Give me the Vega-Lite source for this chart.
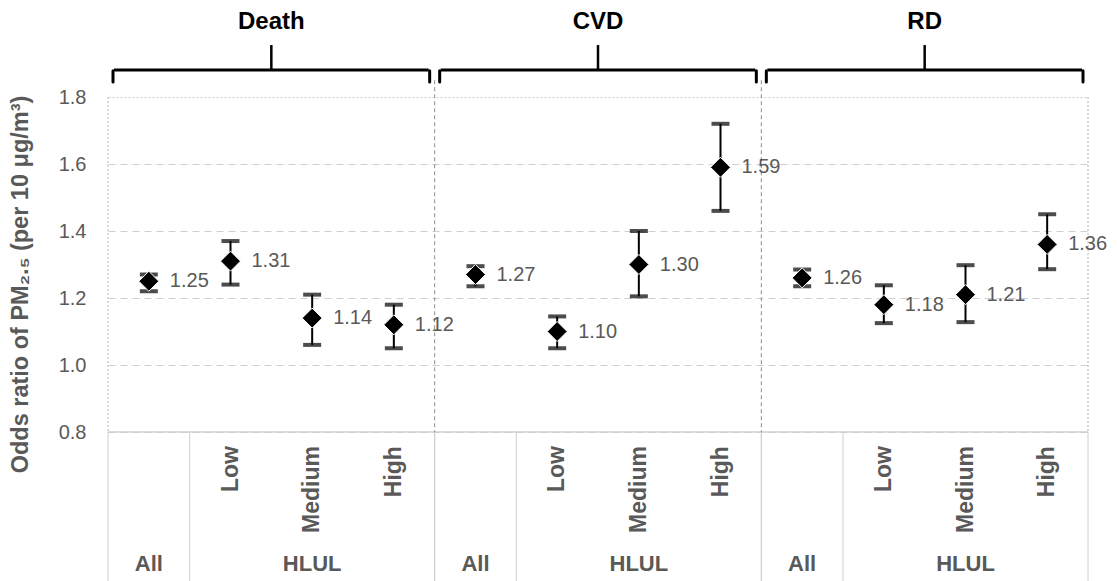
{
  "$schema": "https://vega.github.io/schema/vega-lite/v6.json",
  "width": 980,
  "height": 335,
  "autosize": {"type": "none"},
  "padding": {"left": 108, "top": 97, "right": 29, "bottom": 149},
  "background": "white",
  "config": {"view": {"stroke": null}, "font": "Liberation Sans"},
  "datasets": {
    "pts": [
      {"outcome": "Death", "level": "All", "key": "Death-All", "or": 1.25, "lo": 1.22, "hi": 1.27},
      {"outcome": "Death", "level": "Low", "key": "Death-Low", "or": 1.31, "lo": 1.24, "hi": 1.37},
      {"outcome": "Death", "level": "Medium", "key": "Death-Medium", "or": 1.14, "lo": 1.06, "hi": 1.21},
      {"outcome": "Death", "level": "High", "key": "Death-High", "or": 1.12, "lo": 1.05, "hi": 1.18},
      {"outcome": "CVD", "level": "All", "key": "CVD-All", "or": 1.27, "lo": 1.235, "hi": 1.295},
      {"outcome": "CVD", "level": "Low", "key": "CVD-Low", "or": 1.10, "lo": 1.05, "hi": 1.145},
      {"outcome": "CVD", "level": "Medium", "key": "CVD-Medium", "or": 1.30, "lo": 1.205, "hi": 1.40},
      {"outcome": "CVD", "level": "High", "key": "CVD-High", "or": 1.59, "lo": 1.46, "hi": 1.72},
      {"outcome": "RD", "level": "All", "key": "RD-All", "or": 1.26, "lo": 1.235, "hi": 1.285},
      {"outcome": "RD", "level": "Low", "key": "RD-Low", "or": 1.18, "lo": 1.125, "hi": 1.238},
      {"outcome": "RD", "level": "Medium", "key": "RD-Medium", "or": 1.21, "lo": 1.128, "hi": 1.298},
      {"outcome": "RD", "level": "High", "key": "RD-High", "or": 1.36, "lo": 1.286, "hi": 1.45}
    ],
    "groups": [
      {"outcome": "Death", "first": "Death-All", "mid": "Death-Medium", "last": "Death-High"},
      {"outcome": "CVD", "first": "CVD-All", "mid": "CVD-Medium", "last": "CVD-High"},
      {"outcome": "RD", "first": "RD-All", "mid": "RD-Medium", "last": "RD-High"}
    ]
  },
  "layer": [
    {
      "data": {"name": "pts"},
      "mark": {"type": "rule", "color": "black", "strokeWidth": 2},
      "encoding": {
        "x": {"field": "key", "type": "nominal", "scale": {"type": "band", "domain": ["Death-All","Death-Low","Death-Medium","Death-High","CVD-All","CVD-Low","CVD-Medium","CVD-High","RD-All","RD-Low","RD-Medium","RD-High"], "paddingInner": 0, "paddingOuter": 0}, "axis": null},
        "y": {
          "field": "lo", "type": "quantitative",
          "scale": {"domain": [0.8, 1.8], "nice": false, "zero": false},
          "axis": {
            "title": "Odds ratio of PM₂.₅ (per 10 μg/m³)",
            "values": [0.8, 1.0, 1.2, 1.4, 1.6, 1.8],
            "format": ".1f",
            "domain": false,
            "ticks": false,
            "labelPadding": 22,
            "labelFontSize": 20,
            "labelColor": "#595959",
            "titleFontSize": 23.5,
            "titleFontWeight": "bold",
            "titleColor": "#595959",
            "titlePadding": 26,
            "titleY": 187,
            "grid": true,
            "gridColor": "#cfcfcf",
            "gridDash": {"condition": {"test": "datum.value > 1.75", "value": [2, 2]}, "value": [7, 5]}
          }
        },
        "y2": {"field": "hi"}
      }
    },
    {
      "data": {"name": "groups"},
      "mark": {"type": "rule", "color": "#cfcfcf", "strokeWidth": 1.5},
      "encoding": {
        "x": {"field": "first", "type": "nominal", "bandPosition": 0},
        "x2": {"field": "last", "bandPosition": 1},
        "y": {"datum": 0.8, "type": "quantitative"}
      }
    },
    {
      "data": {"name": "groups"},
      "mark": {"type": "rule", "color": "#d0d0d0", "strokeWidth": 1},
      "encoding": {
        "x": {"field": "first", "type": "nominal", "bandPosition": 0},
        "y": {"datum": 0.8, "type": "quantitative"},
        "y2": {"datum": 0.35}
      }
    },
    {
      "data": {"name": "groups"},
      "mark": {"type": "rule", "color": "#d0d0d0", "strokeWidth": 1},
      "encoding": {
        "x": {"field": "first", "type": "nominal", "bandPosition": 1},
        "y": {"datum": 0.8, "type": "quantitative"},
        "y2": {"datum": 0.35}
      }
    },
    {
      "data": {"name": "groups"},
      "mark": {"type": "rule", "color": "#d0d0d0", "strokeWidth": 1},
      "encoding": {
        "x": {"field": "last", "type": "nominal", "bandPosition": 1},
        "y": {"datum": 0.8, "type": "quantitative"},
        "y2": {"datum": 0.35}
      }
    },
    {
      "data": {"name": "groups"},
      "transform": [{"filter": "datum.outcome !== 'Death'"}],
      "mark": {"type": "rule", "color": "#8c8c8c", "strokeWidth": 1, "strokeDash": [4, 3]},
      "encoding": {
        "x": {"field": "first", "type": "nominal", "bandPosition": 0},
        "y": {"datum": 1.85, "type": "quantitative"},
        "y2": {"datum": 0.8}
      }
    },
    {
      "data": {"name": "groups"},
      "transform": [{"filter": "datum.outcome === 'Death'"}],
      "mark": {"type": "rule", "color": "#b3b3b3", "strokeWidth": 1, "strokeDash": [2, 2]},
      "encoding": {
        "x": {"field": "first", "type": "nominal", "bandPosition": 0},
        "y": {"datum": 1.8, "type": "quantitative"},
        "y2": {"datum": 0.8}
      }
    },
    {
      "data": {"name": "groups"},
      "transform": [{"filter": "datum.outcome === 'RD'"}],
      "mark": {"type": "rule", "color": "#b3b3b3", "strokeWidth": 1, "strokeDash": [2, 2]},
      "encoding": {
        "x": {"field": "last", "type": "nominal", "bandPosition": 1},
        "y": {"datum": 1.8, "type": "quantitative"},
        "y2": {"datum": 0.8}
      }
    },
    {
      "data": {"name": "pts"},
      "mark": {"type": "tick", "color": "black", "thickness": 4, "size": 18, "orient": "horizontal"},
      "encoding": {
        "x": {"field": "key", "type": "nominal"},
        "y": {"field": "lo", "type": "quantitative"}
      }
    },
    {
      "data": {"name": "pts"},
      "mark": {"type": "tick", "color": "black", "thickness": 4, "size": 18, "orient": "horizontal"},
      "encoding": {
        "x": {"field": "key", "type": "nominal"},
        "y": {"field": "hi", "type": "quantitative"}
      }
    },
    {
      "data": {"name": "pts"},
      "mark": {"type": "point", "shape": "diamond", "filled": true, "fill": "black", "stroke": "white", "strokeWidth": 1, "size": 400, "opacity": 1},
      "encoding": {
        "x": {"field": "key", "type": "nominal"},
        "y": {"field": "or", "type": "quantitative"}
      }
    },
    {
      "data": {"name": "pts"},
      "mark": {"type": "text", "align": "left", "baseline": "middle", "dx": 21, "fontSize": 20, "color": "#595959"},
      "encoding": {
        "x": {"field": "key", "type": "nominal"},
        "y": {"field": "or", "type": "quantitative"},
        "text": {"field": "or", "type": "quantitative", "format": ".2f"}
      }
    },
    {
      "data": {"name": "pts"},
      "transform": [{"filter": "datum.level !== 'All'"}],
      "mark": {"type": "text", "angle": 270, "align": "right", "baseline": "middle", "fontSize": 23, "fontWeight": "bold", "color": "#595959"},
      "encoding": {
        "x": {"field": "key", "type": "nominal"},
        "y": {"datum": 0.758, "type": "quantitative"},
        "text": {"field": "level", "type": "nominal"}
      }
    },
    {
      "data": {"name": "pts"},
      "transform": [{"filter": "datum.level === 'All'"}],
      "mark": {"type": "text", "align": "center", "baseline": "middle", "fontSize": 22, "fontWeight": "bold", "color": "#595959"},
      "encoding": {
        "x": {"field": "key", "type": "nominal"},
        "y": {"datum": 0.405, "type": "quantitative"},
        "text": {"field": "level", "type": "nominal"}
      }
    },
    {
      "data": {"name": "groups"},
      "mark": {"type": "text", "text": "HLUL", "align": "center", "baseline": "middle", "fontSize": 22, "fontWeight": "bold", "color": "#595959"},
      "encoding": {
        "x": {"field": "mid", "type": "nominal"},
        "y": {"datum": 0.405, "type": "quantitative"}
      }
    },
    {
      "data": {"name": "groups"},
      "mark": {"type": "rule", "color": "black", "strokeWidth": 3, "xOffset": 6, "x2Offset": -6},
      "encoding": {
        "x": {"field": "first", "type": "nominal", "bandPosition": 0},
        "x2": {"field": "last", "bandPosition": 1},
        "y": {"datum": 1.8806, "type": "quantitative"}
      }
    },
    {
      "data": {"name": "groups"},
      "mark": {"type": "rule", "color": "black", "strokeWidth": 3, "xOffset": 5, "strokeCap": "round"},
      "encoding": {
        "x": {"field": "first", "type": "nominal", "bandPosition": 0},
        "y": {"datum": 1.878, "type": "quantitative"},
        "y2": {"datum": 1.845}
      }
    },
    {
      "data": {"name": "groups"},
      "mark": {"type": "rule", "color": "black", "strokeWidth": 3, "xOffset": -5, "strokeCap": "round"},
      "encoding": {
        "x": {"field": "last", "type": "nominal", "bandPosition": 1},
        "y": {"datum": 1.878, "type": "quantitative"},
        "y2": {"datum": 1.845}
      }
    },
    {
      "data": {"name": "groups"},
      "mark": {"type": "rule", "color": "black", "strokeWidth": 2.5},
      "encoding": {
        "x": {"field": "mid", "type": "nominal", "bandPosition": 0},
        "y": {"datum": 1.879, "type": "quantitative"},
        "y2": {"datum": 1.955}
      }
    },
    {
      "data": {"name": "groups"},
      "mark": {"type": "text", "align": "center", "baseline": "middle", "fontSize": 24, "fontWeight": "bold", "color": "black"},
      "encoding": {
        "x": {"field": "mid", "type": "nominal", "bandPosition": 0},
        "y": {"datum": 2.024, "type": "quantitative"},
        "text": {"field": "outcome", "type": "nominal"}
      }
    }
  ]
}
